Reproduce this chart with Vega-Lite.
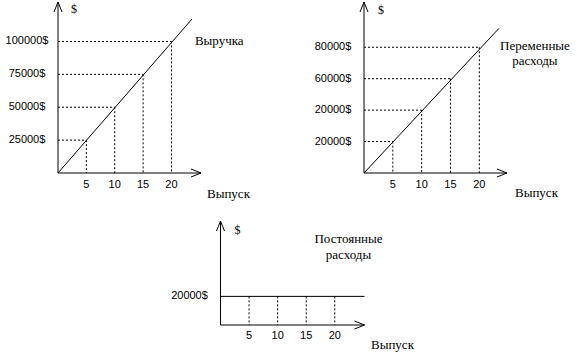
{
  "$schema": "https://vega.github.io/schema/vega-lite/v6.json",
  "background": "white",
  "padding": {"left": 5, "top": 1, "right": 0, "bottom": 0},
  "bounds": "flush",
  "columns": 2,
  "spacing": {"row": 48, "column": 163},
  "config": {"view": {"stroke": null}, "axis": {"disable": true}},
  "datasets": {
    "revTicks": [
      {"x": 5, "y": 25000, "label": "25000$"},
      {"x": 10, "y": 50000, "label": "50000$"},
      {"x": 15, "y": 75000, "label": "75000$"},
      {"x": 20, "y": 100000, "label": "100000$"}
    ],
    "revLine": [
      {"x": 0, "y": 0, "label": ""},
      {"x": 23.6, "y": 117000, "label": "Выручка"}
    ],
    "revAxis": [{"x": 25.2, "y": 130000, "xtitle": "Выпуск", "ytitle": "$"}],
    "varTicks": [
      {"x": 5, "y": 20000, "label": "20000$"},
      {"x": 10, "y": 40000, "label": "20000$"},
      {"x": 15, "y": 60000, "label": "60000$"},
      {"x": 20, "y": 80000, "label": "80000$"}
    ],
    "varLine": [
      {"x": 0, "y": 0, "label": ""},
      {"x": 23.4, "y": 92000, "label": "Переменные\nрасходы"}
    ],
    "varAxis": [{"x": 24.8, "y": 108800, "xtitle": "Выпуск", "ytitle": "$"}],
    "fixTicks": [
      {"x": 5, "y": 20000},
      {"x": 10, "y": 20000},
      {"x": 15, "y": 20000},
      {"x": 20, "y": 20000}
    ],
    "fixLine": [
      {"x": 0, "y": 20000, "label": "20000$"},
      {"x": 25.2, "y": 20000, "label": "Постоянные\nрасходы"}
    ],
    "fixAxis": [{"x": 25.2, "y": 72700, "xtitle": "Выпуск", "ytitle": "$"}]
  },
  "concat": [
    {
      "width": 143, "height": 171,
      "encoding": {
        "x": {"field": "x", "type": "quantitative", "scale": {"domain": [0, 25.2], "nice": false, "zero": false}, "axis": null},
        "y": {"field": "y", "type": "quantitative", "scale": {"domain": [0, 130000], "nice": false, "zero": false}, "axis": null}
      },
      "layer": [
        {"data": {"name": "revTicks"}, "mark": {"type": "rule", "color": "black", "strokeWidth": 1, "strokeDash": [2, 2]},
         "encoding": {"y2": {"datum": 0}}},
        {"data": {"name": "revTicks"}, "mark": {"type": "rule", "color": "black", "strokeWidth": 1, "strokeDash": [2, 2]},
         "encoding": {"x": {"datum": 0, "type": "quantitative"}, "x2": {"field": "x"}}},
        {"data": {"name": "revLine"}, "mark": {"type": "line", "color": "black", "strokeWidth": 1}, "encoding": {}},
        {"data": {"name": "revLine"}, "mark": {"type": "text", "align": "left", "baseline": "middle", "dx": 3, "dy": 21.5, "font": "Liberation Serif", "fontSize": 13, "color": "black"},
         "encoding": {"text": {"field": "label"}}},
        {"data": {"name": "revAxis"}, "mark": {"type": "rule", "color": "black", "strokeWidth": 1},
         "encoding": {"x": {"datum": 0, "type": "quantitative"}, "y": {"datum": 0, "type": "quantitative"}, "y2": {"field": "y"}}},
        {"data": {"name": "revAxis"}, "mark": {"type": "rule", "color": "black", "strokeWidth": 1},
         "encoding": {"x": {"datum": 0, "type": "quantitative"}, "x2": {"field": "x"}, "y": {"datum": 0, "type": "quantitative"}}},
        {"data": {"name": "revAxis"}, "mark": {"type": "rule", "color": "black", "strokeWidth": 1, "x2Offset": -4, "y2Offset": 10},
         "encoding": {"x": {"datum": 0, "type": "quantitative"}, "x2": {"datum": 0}, "y": {"field": "y", "type": "quantitative"}, "y2": {"field": "y"}}},
        {"data": {"name": "revAxis"}, "mark": {"type": "rule", "color": "black", "strokeWidth": 1, "x2Offset": 4, "y2Offset": 10},
         "encoding": {"x": {"datum": 0, "type": "quantitative"}, "x2": {"datum": 0}, "y": {"field": "y", "type": "quantitative"}, "y2": {"field": "y"}}},
        {"data": {"name": "revAxis"}, "mark": {"type": "rule", "color": "black", "strokeWidth": 1, "x2Offset": -10, "y2Offset": -4},
         "encoding": {"x": {"field": "x", "type": "quantitative"}, "x2": {"field": "x"}, "y": {"datum": 0, "type": "quantitative"}, "y2": {"datum": 0}}},
        {"data": {"name": "revAxis"}, "mark": {"type": "rule", "color": "black", "strokeWidth": 1, "x2Offset": -10, "y2Offset": 4},
         "encoding": {"x": {"field": "x", "type": "quantitative"}, "x2": {"field": "x"}, "y": {"datum": 0, "type": "quantitative"}, "y2": {"datum": 0}}},
        {"data": {"name": "revTicks"}, "mark": {"type": "text", "align": "center", "baseline": "middle", "dx": -31, "font": "Liberation Sans", "fontSize": 11, "color": "black"},
         "encoding": {"x": {"datum": 0, "type": "quantitative"}, "text": {"field": "label"}}},
        {"data": {"name": "revTicks"}, "mark": {"type": "text", "align": "center", "baseline": "middle", "dy": 12, "font": "Liberation Sans", "fontSize": 11, "color": "black"},
         "encoding": {"y": {"datum": 0, "type": "quantitative"}, "text": {"field": "x", "type": "quantitative"}}},
        {"data": {"name": "revAxis"}, "mark": {"type": "text", "align": "center", "baseline": "middle", "dx": 16, "dy": 7, "font": "Liberation Serif", "fontSize": 12, "color": "black"},
         "encoding": {"x": {"datum": 0, "type": "quantitative"}, "text": {"field": "ytitle"}}},
        {"data": {"name": "revAxis"}, "mark": {"type": "text", "align": "left", "baseline": "middle", "dx": 6, "dy": 20.5, "font": "Liberation Serif", "fontSize": 13, "color": "black"},
         "encoding": {"y": {"datum": 0, "type": "quantitative"}, "text": {"field": "xtitle"}}}
      ]
    },
    {
      "width": 143, "height": 171,
      "encoding": {
        "x": {"field": "x", "type": "quantitative", "scale": {"domain": [0, 24.8], "nice": false, "zero": false}, "axis": null},
        "y": {"field": "y", "type": "quantitative", "scale": {"domain": [0, 108800], "nice": false, "zero": false}, "axis": null}
      },
      "layer": [
        {"data": {"name": "varTicks"}, "mark": {"type": "rule", "color": "black", "strokeWidth": 1, "strokeDash": [2, 2]},
         "encoding": {"y2": {"datum": 0}}},
        {"data": {"name": "varTicks"}, "mark": {"type": "rule", "color": "black", "strokeWidth": 1, "strokeDash": [2, 2]},
         "encoding": {"x": {"datum": 0, "type": "quantitative"}, "x2": {"field": "x"}}},
        {"data": {"name": "varLine"}, "mark": {"type": "line", "color": "black", "strokeWidth": 1}, "encoding": {}},
        {"data": {"name": "varLine"}, "mark": {"type": "text", "align": "center", "baseline": "middle", "dx": 36, "dy": 18, "lineBreak": "\n", "lineHeight": 15, "font": "Liberation Serif", "fontSize": 13, "color": "black"},
         "encoding": {"text": {"field": "label"}}},
        {"data": {"name": "varAxis"}, "mark": {"type": "rule", "color": "black", "strokeWidth": 1},
         "encoding": {"x": {"datum": 0, "type": "quantitative"}, "y": {"datum": 0, "type": "quantitative"}, "y2": {"field": "y"}}},
        {"data": {"name": "varAxis"}, "mark": {"type": "rule", "color": "black", "strokeWidth": 1},
         "encoding": {"x": {"datum": 0, "type": "quantitative"}, "x2": {"field": "x"}, "y": {"datum": 0, "type": "quantitative"}}},
        {"data": {"name": "varAxis"}, "mark": {"type": "rule", "color": "black", "strokeWidth": 1, "x2Offset": -4, "y2Offset": 10},
         "encoding": {"x": {"datum": 0, "type": "quantitative"}, "x2": {"datum": 0}, "y": {"field": "y", "type": "quantitative"}, "y2": {"field": "y"}}},
        {"data": {"name": "varAxis"}, "mark": {"type": "rule", "color": "black", "strokeWidth": 1, "x2Offset": 4, "y2Offset": 10},
         "encoding": {"x": {"datum": 0, "type": "quantitative"}, "x2": {"datum": 0}, "y": {"field": "y", "type": "quantitative"}, "y2": {"field": "y"}}},
        {"data": {"name": "varAxis"}, "mark": {"type": "rule", "color": "black", "strokeWidth": 1, "x2Offset": -10, "y2Offset": -4},
         "encoding": {"x": {"field": "x", "type": "quantitative"}, "x2": {"field": "x"}, "y": {"datum": 0, "type": "quantitative"}, "y2": {"datum": 0}}},
        {"data": {"name": "varAxis"}, "mark": {"type": "rule", "color": "black", "strokeWidth": 1, "x2Offset": -10, "y2Offset": 4},
         "encoding": {"x": {"field": "x", "type": "quantitative"}, "x2": {"field": "x"}, "y": {"datum": 0, "type": "quantitative"}, "y2": {"datum": 0}}},
        {"data": {"name": "varTicks"}, "mark": {"type": "text", "align": "center", "baseline": "middle", "dx": -31, "font": "Liberation Sans", "fontSize": 11, "color": "black"},
         "encoding": {"x": {"datum": 0, "type": "quantitative"}, "text": {"field": "label"}}},
        {"data": {"name": "varTicks"}, "mark": {"type": "text", "align": "center", "baseline": "middle", "dy": 12, "font": "Liberation Sans", "fontSize": 11, "color": "black"},
         "encoding": {"y": {"datum": 0, "type": "quantitative"}, "text": {"field": "x", "type": "quantitative"}}},
        {"data": {"name": "varAxis"}, "mark": {"type": "text", "align": "center", "baseline": "middle", "dx": 17, "dy": 7.5, "font": "Liberation Serif", "fontSize": 12, "color": "black"},
         "encoding": {"x": {"datum": 0, "type": "quantitative"}, "text": {"field": "ytitle"}}},
        {"data": {"name": "varAxis"}, "mark": {"type": "text", "align": "left", "baseline": "middle", "dx": 8, "dy": 19.5, "font": "Liberation Serif", "fontSize": 13, "color": "black"},
         "encoding": {"y": {"datum": 0, "type": "quantitative"}, "text": {"field": "xtitle"}}}
      ]
    },
    {
      "width": 143, "height": 104,
      "encoding": {
        "x": {"field": "x", "type": "quantitative", "scale": {"domain": [0, 25.2], "range": [162.5, 306.5], "nice": false, "zero": false}, "axis": null},
        "y": {"field": "y", "type": "quantitative", "scale": {"domain": [0, 72700], "nice": false, "zero": false}, "axis": null}
      },
      "layer": [
        {"data": {"name": "fixTicks"}, "mark": {"type": "rule", "color": "black", "strokeWidth": 1, "strokeDash": [2, 2]},
         "encoding": {"y2": {"datum": 0}}},
        {"data": {"name": "fixLine"}, "mark": {"type": "line", "color": "black", "strokeWidth": 1}, "encoding": {}},
        {"data": {"name": "fixLine"}, "transform": [{"filter": "datum.x == 0"}], "mark": {"type": "text", "align": "center", "baseline": "middle", "dx": -31, "font": "Liberation Sans", "fontSize": 11, "color": "black"},
         "encoding": {"text": {"field": "label"}}},
        {"data": {"name": "fixLine"}, "transform": [{"filter": "datum.x > 0"}], "mark": {"type": "text", "align": "center", "baseline": "middle", "dx": -16, "dy": -57.5, "lineBreak": "\n", "lineHeight": 16.5, "font": "Liberation Serif", "fontSize": 13, "color": "black"},
         "encoding": {"text": {"field": "label"}}},
        {"data": {"name": "fixAxis"}, "mark": {"type": "rule", "color": "black", "strokeWidth": 1},
         "encoding": {"x": {"datum": 0, "type": "quantitative"}, "y": {"datum": 0, "type": "quantitative"}, "y2": {"field": "y"}}},
        {"data": {"name": "fixAxis"}, "mark": {"type": "rule", "color": "black", "strokeWidth": 1},
         "encoding": {"x": {"datum": 0, "type": "quantitative"}, "x2": {"field": "x"}, "y": {"datum": 0, "type": "quantitative"}}},
        {"data": {"name": "fixAxis"}, "mark": {"type": "rule", "color": "black", "strokeWidth": 1, "x2Offset": -4, "y2Offset": 10},
         "encoding": {"x": {"datum": 0, "type": "quantitative"}, "x2": {"datum": 0}, "y": {"field": "y", "type": "quantitative"}, "y2": {"field": "y"}}},
        {"data": {"name": "fixAxis"}, "mark": {"type": "rule", "color": "black", "strokeWidth": 1, "x2Offset": 4, "y2Offset": 10},
         "encoding": {"x": {"datum": 0, "type": "quantitative"}, "x2": {"datum": 0}, "y": {"field": "y", "type": "quantitative"}, "y2": {"field": "y"}}},
        {"data": {"name": "fixAxis"}, "mark": {"type": "rule", "color": "black", "strokeWidth": 1, "x2Offset": -10, "y2Offset": -4},
         "encoding": {"x": {"field": "x", "type": "quantitative"}, "x2": {"field": "x"}, "y": {"datum": 0, "type": "quantitative"}, "y2": {"datum": 0}}},
        {"data": {"name": "fixAxis"}, "mark": {"type": "rule", "color": "black", "strokeWidth": 1, "x2Offset": -10, "y2Offset": 4},
         "encoding": {"x": {"field": "x", "type": "quantitative"}, "x2": {"field": "x"}, "y": {"datum": 0, "type": "quantitative"}, "y2": {"datum": 0}}},
        {"data": {"name": "fixTicks"}, "mark": {"type": "text", "align": "center", "baseline": "middle", "dy": 11, "font": "Liberation Sans", "fontSize": 11, "color": "black"},
         "encoding": {"y": {"datum": 0, "type": "quantitative"}, "text": {"field": "x", "type": "quantitative"}}},
        {"data": {"name": "fixAxis"}, "mark": {"type": "text", "align": "center", "baseline": "middle", "dx": 17, "dy": 9, "font": "Liberation Serif", "fontSize": 12, "color": "black"},
         "encoding": {"x": {"datum": 0, "type": "quantitative"}, "text": {"field": "ytitle"}}},
        {"data": {"name": "fixAxis"}, "mark": {"type": "text", "align": "left", "baseline": "middle", "dx": 6.5, "dy": 20, "font": "Liberation Serif", "fontSize": 13, "color": "black"},
         "encoding": {"y": {"datum": 0, "type": "quantitative"}, "text": {"field": "xtitle"}}}
      ]
    }
  ]
}
